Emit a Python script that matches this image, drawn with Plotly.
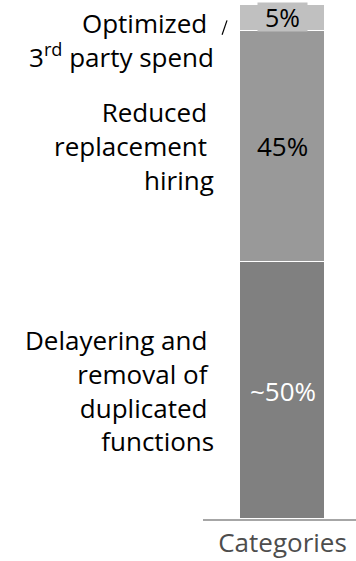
import plotly.graph_objects as go

# Stacked contribution of each savings lever (bottom to top)
categories = ["Categories"]
levers = [
    "Delayering and\u00a0<br>removal of\u00a0<br>duplicated\u00a0<br>functions",
    "Reduced\u00a0<br>replacement\u00a0<br>hiring",
    "Optimized\u00a0<br>3<sup>rd</sup> party spend",
]
shares = [50, 45, 5]
approx = [True, False, False]
bar_colors = ["#808080", "#999999", "#c0c0c0"]
value_colors = ["#ffffff", "#000000", "#000000"]

FONT = "Open Sans"
SIZE = 26

fig = go.Figure()
for name, v, c in zip(levers, shares, bar_colors):
    fig.add_trace(go.Bar(
        x=categories, y=[v], marker=dict(color=c, line=dict(color="#ffffff", width=1.5)),
        width=0.534, name=name, showlegend=False, hoverinfo="skip",
    ))

annotations = []
base = 0
for i, (name, v, c) in enumerate(zip(levers, shares, bar_colors)):
    mid = base + v / 2
    label = ("~" if approx[i] else "") + f"{v}%"
    top = i == len(shares) - 1
    annotations.append(dict(
        x=0, y=mid, xref="x", yref="y", text=label, showarrow=False,
        font=dict(family=FONT, size=25 if top else 26, color=value_colors[i]),
        bgcolor=c if top else None,
        width=49 if top else None, height=28 if top else None,
        borderpad=0, yshift=1 if top else 0,
    ))
    annotations.append(dict(
        x=-0.418, y=mid, xref="x", yref="y", text=name, showarrow=False,
        xanchor="right", align="right",
        font=dict(family=FONT, size=SIZE, color="#000000"),
        yshift=-22 if top else 0,
    ))
    base += v

# Leader stroke from the small top lever to its label
top_base = sum(shares[:-1])
fig.add_shape(type="line", xref="x", yref="y",
              x0=-0.380, y0=top_base - 0.8, x1=-0.349, y1=top_base + shares[-1] / 2 - 0.5,
              line=dict(color="#000000", width=1.2))

fig.update_layout(
    width=356, height=561, barmode="stack", bargap=0,
    margin=dict(l=203, r=0, t=5, b=42),
    paper_bgcolor="#ffffff", plot_bgcolor="#ffffff",
    annotations=annotations,
    xaxis=dict(range=[-0.5, 0.462], showline=True, linecolor="#a6a6a6", linewidth=2,
               showgrid=False, zeroline=False, ticks="",
               tickfont=dict(family=FONT, size=26, color="#4d4d4d")),
    yaxis=dict(range=[0, 100], visible=False),
)

fig.write_html("out.html")
